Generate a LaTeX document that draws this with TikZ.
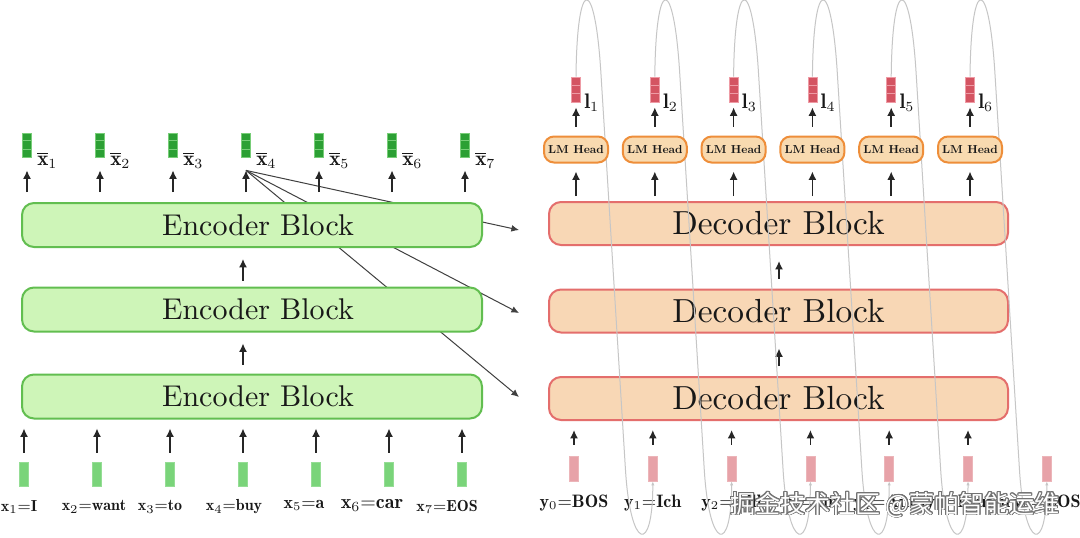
\documentclass[tikz,border=0pt]{standalone}
\usepackage{fontspec}
\newfontfamily\cjk{Noto Sans CJK SC}
\newfontfamily\blockfont{lmroman10-regular.otf}
\newfontfamily\headfont{lmroman10-bold.otf}
\usepackage{contour}
\contourlength{0.45pt}
\usetikzlibrary{calc,arrows.meta}
\definecolor{encfill}{RGB}{206,245,184}
\definecolor{encdraw}{RGB}{98,190,80}
\definecolor{decfill}{RGB}{248,215,181}
\definecolor{decdraw}{RGB}{228,110,108}
\definecolor{lmfill}{RGB}{248,218,176}
\definecolor{lmdraw}{RGB}{238,142,58}
\definecolor{xbfill}{RGB}{44,160,52}
\definecolor{xbline}{RGB}{120,205,120}
\definecolor{xinfill}{RGB}{122,212,122}
\definecolor{lfill}{RGB}{212,84,98}
\definecolor{lline}{RGB}{238,155,165}
\definecolor{yinfill}{RGB}{231,162,168}
\definecolor{loopc}{RGB}{198,198,198}
\definecolor{txt}{RGB}{24,24,24}
\begin{document}
\begin{tikzpicture}[x=0.5pt,y=-0.5pt,
  encblk/.style={draw=encdraw, fill=encfill, line width=1pt, rounded corners=6pt,
    minimum width=230pt, minimum height=22pt, inner sep=0pt,
    font=\blockfont\fontsize{15}{18}\selectfont, text=txt},
  decblk/.style={draw=decdraw, fill=decfill, line width=1pt, rounded corners=6pt,
    minimum width=229.5pt, minimum height=21.5pt, inner sep=0pt,
    font=\blockfont\fontsize{16.7}{19}\selectfont, text=txt},
  lmhead/.style={draw=lmdraw, fill=lmfill, line width=1pt, rounded corners=5pt,
    minimum width=32pt, minimum height=13pt, inner sep=0pt,
    font=\headfont\fontsize{5.8}{6.5}\selectfont, text=txt},
  xbbox/.style={draw=xbline, fill=xbfill, line width=0.4pt, minimum width=4.5pt,
    minimum height=12pt, inner sep=0pt},
  lbox/.style={draw=lline, fill=lfill, line width=0.4pt, minimum width=4.5pt,
    minimum height=12.5pt, inner sep=0pt},
  xinbox/.style={fill=xinfill, draw=xinfill!80!white, line width=0.3pt,
    minimum width=4.5pt, minimum height=12pt, inner sep=0pt},
  yinbox/.style={fill=yinfill, draw=yinfill!80!white, line width=0.3pt,
    minimum width=4.5pt, minimum height=12.5pt, inner sep=0pt},
  toplab/.style={font=\fontsize{10.5}{12}\selectfont, text=txt, inner sep=0pt},
  botlab/.style={font=\fontsize{8}{10}\selectfont, text=txt, inner sep=0pt},
  arr/.style={-{Latex[length=4.2pt,width=4pt]}, line width=0.75pt, draw=black!85},
  xarr/.style={-{Latex[length=3.8pt,width=3.4pt]}, line width=0.5pt, draw=black!75},
  loopline/.style={-{Latex[length=2pt,width=1.6pt]}, line width=0.5pt, draw=loopc},
  sepline/.style={line width=0.4pt}
]
\path[use as bounding box, fill=white] (0,0) rectangle (1080,537);

% decoder blocks
\node[decblk] (dec1) at (778.5,398.5) {Decoder Block};
\node[decblk] (dec2) at (778.5,311) {Decoder Block};
\node[decblk] (dec3) at (778.5,223.5) {Decoder Block};

% encoder output vectors
\foreach \i in {1,...,7} {
  \pgfmathsetmacro{\xx}{27+73*(\i-1)}
  \node[xbbox] (xb\i) at (\xx,145) {};
  \draw[sepline, draw=xbline] ($(xb\i.north west)!1/3!(xb\i.south west)$) -- ($(xb\i.north east)!1/3!(xb\i.south east)$);
  \draw[sepline, draw=xbline] ($(xb\i.north west)!2/3!(xb\i.south west)$) -- ($(xb\i.north east)!2/3!(xb\i.south east)$);
  \node[toplab, anchor=base west] (xbl\i) at ($(xb\i.south east)+(5,8)$) {$\overline{\mathbf{x}}_{\i}$};
}

% cross attention lines (behind encoder blocks)
\coordinate (t4) at ($(xb4.south)+(0,13)$);
\coordinate (ct) at ($(dec3.west)+(-29,6.5)$);
\coordinate (cm) at ($(dec2.west)+(-29,2)$);
\coordinate (cb) at ($(dec1.west)+(-29,-1.5)$);
\draw[xarr] (t4) -- (ct);
\draw[xarr] (t4) -- (cm);
\draw[xarr] (t4) -- (cb);

% encoder blocks
\node[encblk] (enc1) at (252,396.5) {\hspace*{6pt}Encoder Block};
\node[encblk] (enc2) at (252,309.5) {\hspace*{6pt}Encoder Block};
\node[encblk] (enc3) at (252,225) {\hspace*{6pt}Encoder Block};

\foreach \i in {1,...,7} {
  \draw[arr, shorten <=5pt, shorten >=6.5pt] (enc3.north -| xb\i.south) -- (xb\i.south);
}
\draw[arr, shorten <=4.5pt, shorten >=5.5pt] ($(enc1.north)+(-9,0)$) -- ($(enc2.south)+(-9,0)$);
\draw[arr, shorten <=3pt, shorten >=5.5pt] ($(enc2.north)+(-9,0)$) -- ($(enc3.south)+(-9,0)$);

% encoder inputs
\foreach \i in {1,...,7} {
  \pgfmathsetmacro{\xx}{24+73*(\i-1)}
  \node[xinbox] (xi\i) at (\xx,474) {};
  \draw[arr, shorten <=4.5pt, shorten >=4.5pt] (xi\i.north) -- (xi\i.north |- enc1.south);
}
\node[botlab] (xl1) at (19,507) {$\mathbf{x}_1{=}\mathbf{I}$};
\node[botlab] (xl2) at (94,507) {$\mathbf{x}_2{=}\mathbf{want}$};
\node[botlab] (xl3) at (160,507) {$\mathbf{x}_3{=}\mathbf{to}$};
\node[botlab] (xl4) at (234,507) {$\mathbf{x}_4{=}\mathbf{buy}$};
\node[botlab, font=\fontsize{9}{10}\selectfont] (xl5) at (304,505) {$\mathbf{x}_5{=}\mathbf{a}$};
\node[botlab, font=\fontsize{10}{11}\selectfont] (xl6) at (372,505) {$\mathbf{x}_6{=}\mathbf{car}$};
\node[botlab] (xl7) at (447,507) {$\mathbf{x}_7{=}\mathbf{EOS}$};

% decoder middle arrows
\draw[arr, shorten <=5pt, shorten >=7.5pt] ($(dec1.north)+(0.5,0)$) -- ($(dec2.south)+(0.5,0)$);
\draw[arr, shorten <=5pt, shorten >=7.5pt] ($(dec2.north)+(0.5,0)$) -- ($(dec3.south)+(0.5,0)$);

% decoder inputs
\foreach \j in {0,...,6} {
  \pgfmathsetmacro{\xx}{574+78.8*\j}
  \node[yinbox] (yb\j) at (\xx,468.5) {};
}
\foreach \j in {0,...,5} {
  \draw[arr, shorten <=5.5pt, shorten >=4.5pt] (yb\j.north) -- (yb\j.north |- dec1.south);
}
\tikzset{ylab/.style={botlab, font=\fontsize{9}{10}\selectfont}}
\node[ylab] (yl0) at (yb0 |- 0,503) {$\mathbf{y}_0{=}\mathbf{BOS}$};
\node[ylab] (yl1) at (yb1 |- 0,503) {$\mathbf{y}_1{=}\mathbf{Ich}$};
\node[ylab] (yl2) at (yb2 |- 0,503) {$\mathbf{y}_2{=}\mathbf{will}$};
\node[ylab] (yl3) at (yb3 |- 0,503) {$\mathbf{y}_3{=}\mathbf{ein}$};
\node[ylab] (yl4) at (yb4 |- 0,503) {$\mathbf{y}_4{=}\mathbf{Auto}$};
\node[ylab] (yl5) at (yb5 |- 0,503) {$\mathbf{y}_5{=}\mathbf{kaufen}$};
\node[ylab] (yl6) at (yb6 |- 0,503) {$\mathbf{y}_6{=}\mathbf{EOS}$};

% logits vectors
\foreach \i in {1,...,6} {
  \pgfmathsetmacro{\xx}{576+78.8*(\i-1)}
  \node[lbox] (l\i) at (\xx,89.5) {};
  \draw[sepline, draw=lline] ($(l\i.north west)!1/3!(l\i.south west)$) -- ($(l\i.north east)!1/3!(l\i.south east)$);
  \draw[sepline, draw=lline] ($(l\i.north west)!2/3!(l\i.south west)$) -- ($(l\i.north east)!2/3!(l\i.south east)$);
  \node[toplab, anchor=base west] (ll\i) at ($(l\i.south east)+(3,6)$) {$\mathbf{l}_{\i}$};
}

% feedback loops
\foreach \i in {1,...,6} {
  \coordinate (pa\i) at ($(l\i.north)+(25,-2)$);
  \coordinate (pb\i) at ($(yb\i.south)+(-27.3,-11)$);
  \draw[loopline] (l\i.north) .. controls +(1,-102) and +(-6,-100) .. (pa\i) -- (pb\i) .. controls +(5,80) and +(0,74) .. (yb\i.south);
}

% LM heads
\foreach \i in {1,...,6} {
  \node[lmhead] (lm\i) at (l\i |- 0,149.5) {LM Head};
  \draw[arr, shorten <=2.5pt, shorten >=4pt] (dec3.north -| lm\i.south) -- (lm\i.south);
  \draw[arr, shorten <=4.5pt, shorten >=2.5pt] (lm\i.north) -- (l\i.south);
}

% watermark
\node[inner sep=0pt, font=\cjk\fontsize{12.5}{14}\selectfont] (wm) at (895,505)
  {\contour{black!55}{\textcolor{white}{掘金技术社区 @蒙帕智能运维}}};
\end{tikzpicture}
\end{document}
